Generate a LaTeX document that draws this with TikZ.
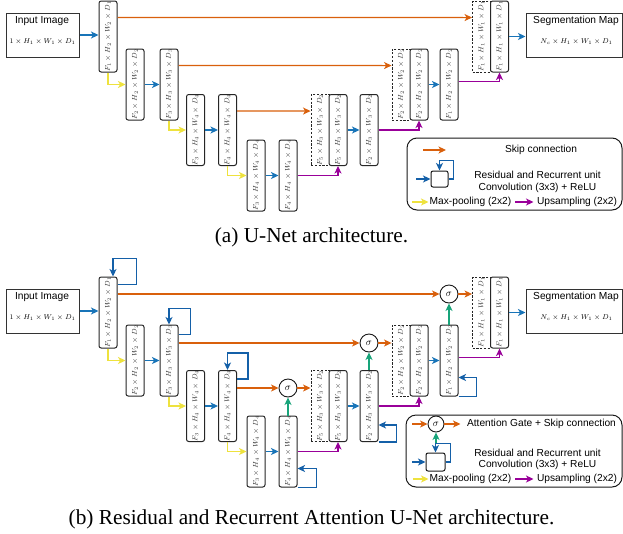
\documentclass[tikz,border=0pt]{standalone}
\usepackage[no-math]{fontspec}
\setsansfont{Liberation Sans}
\newfontfamily\capfont{Liberation Serif}
\usetikzlibrary{arrows.meta}

\definecolor{cBlue}{HTML}{1874B8}
\definecolor{cLoop}{HTML}{1460A8}
\definecolor{cOrg}{HTML}{D9600C}
\definecolor{cYlw}{HTML}{EEE23E}
\definecolor{cPur}{HTML}{990099}
\definecolor{cGrn}{HTML}{18A47A}

\tikzset{
  fmapbox/.style={draw=black!85, line width=1pt, rounded corners=2.2pt, fill=white,
    minimum width=18pt, minimum height=71pt, inner sep=0pt},
  catbox/.style={fmapbox, rounded corners=0pt, line width=0.9pt,
    dash pattern=on 2.2pt off 1.6pt},
  fmaptxt/.style={rotate=90, font=\fontsize{6.6}{8}\selectfont, text=black!80, inner sep=0pt},
  iobox/.style={draw=black!80, line width=1pt, minimum width=73pt, minimum height=44pt, inner sep=0pt},
  sanstxt/.style={font=\sffamily\fontsize{10.2}{12}\selectfont, inner sep=0pt},
  mathtxt/.style={font=\fontsize{7.4}{9}\selectfont, inner sep=0pt},
  lnk/.style={line width=1.1pt, -{Stealth[length=7.5pt,width=7pt,inset=2pt]}},
  cblu/.style={lnk, draw=cBlue},
  cloop/.style={lnk, draw=cLoop},
  corg/.style={lnk, draw=cOrg},
  cylw/.style={lnk, draw=cYlw},
  cpur/.style={lnk, draw=cPur},
  cgrn/.style={lnk, draw=cGrn},
  sig/.style={circle, draw=black!90, line width=0.9pt, minimum size=18pt, inner sep=0pt, fill=white},
  legbox/.style={draw=black!90, line width=1pt, rounded corners=10pt},
  unitsq/.style={draw=black!90, line width=1pt, rounded corners=2pt, inner sep=0pt},
  captxt/.style={font=\capfont\fontsize{21.3}{24}\selectfont, inner sep=0pt}
}

% one feature map: style, name, position, shape text
\newcommand{\fmap}[4]{%
  \node[#1] (#2) at (#3) {};
  \node[fmaptxt] (#2t) at (#2.center) {$#4$};}

% the boxes and the connectors shared by both networks
\newcommand{\netbody}[1]{%
  \node[iobox] (#1in) at (42.5,35) {};
  \node[sanstxt] (#1inT) at (42,21) {Input Image};
  \node[mathtxt] (#1inF) at (42.5,42) {$1\times H_1\times W_1\times D_1$};
  \node[iobox, minimum width=96pt] (#1seg) at (574,35) {};
  \node[sanstxt] (#1segT) at (576,21) {Segmentation Map};
  \node[mathtxt] (#1segF) at (576.5,42) {$N_c\times H_1\times W_1\times D_1$};
  % encoder
  \fmap{fmapbox}{#1e1}{108,36.5}{F_1\times H_2\times W_2\times D_1}
  \fmap{fmapbox}{#1e2a}{135,84.5}{F_2\times H_2\times W_2\times D_2}
  \fmap{fmapbox}{#1e2b}{169,84.5}{F_3\times H_3\times W_3\times D_3}
  \fmap{fmapbox}{#1e3a}{195.5,130}{F_3\times H_4\times W_4\times D_4}
  \fmap{fmapbox}{#1e3b}{227.5,130}{F_4\times H_4\times W_4\times D_4}
  \fmap{fmapbox}{#1e4a}{256,175.5}{F_3\times H_4\times W_4\times D_4}
  \fmap{fmapbox}{#1e4b}{288,175.5}{F_4\times H_4\times W_4\times D_4}
  % decoder
  \fmap{catbox}{#1d3c}{320,130}{F_5\times H_3\times W_3\times D_2}
  \fmap{fmapbox}{#1d3a}{338,130}{F_5\times H_3\times W_3\times D_2}
  \fmap{fmapbox}{#1d3b}{369,130}{F_2\times H_3\times W_3\times D_2}
  \fmap{catbox}{#1d2c}{401,84.5}{F_2\times H_2\times W_2\times D_2}
  \fmap{fmapbox}{#1d2a}{419,84.5}{F_2\times H_2\times W_2\times D_2}
  \fmap{fmapbox}{#1d2b}{449,84.5}{F_1\times H_2\times W_2\times D_2}
  \fmap{catbox}{#1d1c}{481.5,36.5}{F_1\times H_1\times W_1\times D_1}
  \fmap{fmapbox}{#1d1a}{499.5,36.5}{F_1\times H_1\times W_1\times D_1}
  % convolutions
  \draw[cblu] (#1in.east) -- (#1in.east -| #1e1.west);
  \draw[cblu] (#1e2a.east) -- (#1e2b.west);
  \draw[cblu] (#1e3a.east) -- (#1e3b.west);
  \draw[cblu] (#1e4a.east) -- (#1e4b.west);
  \draw[cblu] (#1d3a.east) -- (#1d3b.west);
  \draw[cblu] (#1d2a.east) -- (#1d2b.west);
  \draw[cblu] (#1d1a.east) -- (#1d1a.east -| #1seg.west);
  % max-pooling
  \draw[cylw] (#1e1.south) |- (#1e2a.west);
  \draw[cylw] (#1e2b.south) |- (#1e3a.west);
  \draw[cylw] (#1e3b.south) |- (#1e4a.west);
  % upsampling
  \draw[cpur] (#1e4b.east) -| (#1d3a.south);
  \draw[cpur] (#1d3b.east) -| (#1d2a.south);
  \draw[cpur] ([yshift=3pt]#1d2b.east) -| (#1d1a.south);
}

% legend square of a residual recurrent unit
\newcommand{\legunit}[4]{% prefix, square centre, width, height
  \node[unitsq, minimum width=#3, minimum height=#4] (#1u) at (#2) {};
}

\begin{document}
\begin{tikzpicture}[x=1pt, y=-1pt]
\useasboundingbox (0,0) rectangle (623,533);
\fill[white] (0,0) rectangle (623,533);

% ---------------- U-Net ----------------
\netbody{a-}
\draw[corg] ([yshift=-17pt]a-e1.north east) -- ([yshift=-17pt]a-d1c.north west);
\draw[corg] ([yshift=-17pt]a-e2b.north east) -- ([yshift=-17pt]a-d2c.north west);
\draw[corg] ([yshift=-17pt]a-e3b.north east) -- ([yshift=-17pt]a-d3c.north west);

\node[legbox, minimum width=215pt, minimum height=72pt] (a-leg) at (514.5,174) {};
\coordinate (a-k0) at (423,150);
\coordinate (a-k1) at (446,150);
\draw[corg] (a-k0) -- (a-k1);
\node[sanstxt] (a-kT) at (541,150) {Skip connection};
\legunit{a-}{439.5,179}{17pt}{16pt}
\coordinate (a-u0) at (416,179);
\draw[cloop] (a-u0) -- (a-u.west);
\draw[cloop] (a-u.east) -- ++(5pt,0) |- ([yshift=10pt]a-u.north) -- (a-u.north);
\node[sanstxt] (a-uT1) at (537.5,175) {Residual and Recurrent unit};
\node[sanstxt] (a-uT2) at (537.5,188) {Convolution (3x3) + ReLU};
\coordinate (a-y0) at (412,202);
\coordinate (a-y1) at (428.5,202);
\draw[cylw] (a-y0) -- (a-y1);
\node[sanstxt] (a-yT) at (470.5,202) {Max-pooling (2x2)};
\coordinate (a-p0) at (515,202);
\coordinate (a-p1) at (533.5,202);
\draw[cpur] (a-p0) -- (a-p1);
\node[sanstxt] (a-pT) at (577,202) {Upsampling (2x2)};

\node[captxt] (a-cap) at (311.5,237) {(a) U-Net architecture.};

% ---------------- Residual and Recurrent Attention U-Net ----------------
\begin{scope}[yshift=-276pt]
\netbody{b-}
\node[sig] (b-s1) at (449,18) {$\sigma$};
\node[sig] (b-s2) at (369,67) {$\sigma$};
\node[sig] (b-s3) at (288,112) {$\sigma$};
% attention gated skips
\draw[corg] (b-e1.east |- b-s1) -- (b-s1.west);
\draw[corg] (b-s1.east) -- (b-s1 -| b-d1c.west);
\draw[corg] (b-e2b.east |- b-s2) -- (b-s2.west);
\draw[corg] (b-s2.east) -- (b-s2 -| b-d2c.west);
\draw[corg] (b-e3b.east |- b-s3) -- (b-s3.west);
\draw[corg] (b-s3.east) -- (b-s3 -| b-d3c.west);
% gating signals
\draw[cgrn] (b-d2b.north) -- (b-s1.south);
\draw[cgrn] (b-d3b.north) -- (b-s2.south);
\draw[cgrn] (b-e4b.north) -- (b-s3.south);
% recurrent loops, encoder
\draw[cloop] ([yshift=-8pt]b-e1.north east) -- ++(19pt,0) |- ([xshift=5pt,yshift=18pt]b-e1.north) -- ([xshift=5pt]b-e1.north);
\draw[cloop] ([yshift=-10pt]b-e2b.north east) -- ++(12pt,0) |- ([yshift=16pt]b-e2b.north) -- (b-e2b.north);
\draw[cloop] ([yshift=-9pt]b-e3b.north east) -- ++(11pt,0) |- ([yshift=17pt]b-e3b.north) -- (b-e3b.north);
% recurrent loops, bottom and decoder
\draw[cloop] (b-e4b.south east) -- ++(19pt,0) |- ([yshift=19pt]b-e4b.south east);
\draw[cloop] (b-d3b.south east) -- ++(18pt,0) |- ([yshift=17pt]b-d3b.south east);
\draw[cloop] (b-d2b.south east) -- ++(18pt,0) |- ([yshift=19pt]b-d2b.south east);
\end{scope}

\node[legbox, minimum width=216pt, minimum height=72pt] (b-leg) at (514,451) {};
\node[sig, minimum size=16pt] (b-ls) at (436,424) {$\sigma$};
\coordinate (b-k0) at (412,424);
\coordinate (b-k1) at (460.5,424);
\draw[corg] (b-k0) -- (b-ls.west);
\draw[corg] (b-ls.east) -- (b-k1);
\coordinate (b-g0) at (436,443);
\draw[cgrn] (b-g0) -- (b-ls.south);
\node[sanstxt] (b-kT) at (541.5,424) {Attention Gate + Skip connection};
\legunit{b-}{435.5,462}{19pt}{18pt}
\coordinate (b-u0) at (412,462);
\draw[cloop] (b-u0) -- (b-u.west);
\draw[cloop] (b-u.east) -- ++(5pt,0) |- ([yshift=9pt]b-u.north) -- (b-u.north);
\node[sanstxt] (b-uT1) at (537.5,453) {Residual and Recurrent unit};
\node[sanstxt] (b-uT2) at (537.5,464.5) {Convolution (3x3) + ReLU};
\coordinate (b-y0) at (413,479);
\coordinate (b-y1) at (428.5,479);
\draw[cylw] (b-y0) -- (b-y1);
\node[sanstxt] (b-yT) at (470.5,479) {Max-pooling (2x2)};
\coordinate (b-p0) at (515,479);
\coordinate (b-p1) at (533.5,479);
\draw[cpur] (b-p0) -- (b-p1);
\node[sanstxt] (b-pT) at (577,479) {Upsampling (2x2)};

\node[captxt] (b-cap) at (311.5,519) {(b) Residual and Recurrent Attention U-Net architecture.};
\end{tikzpicture}
\end{document}
